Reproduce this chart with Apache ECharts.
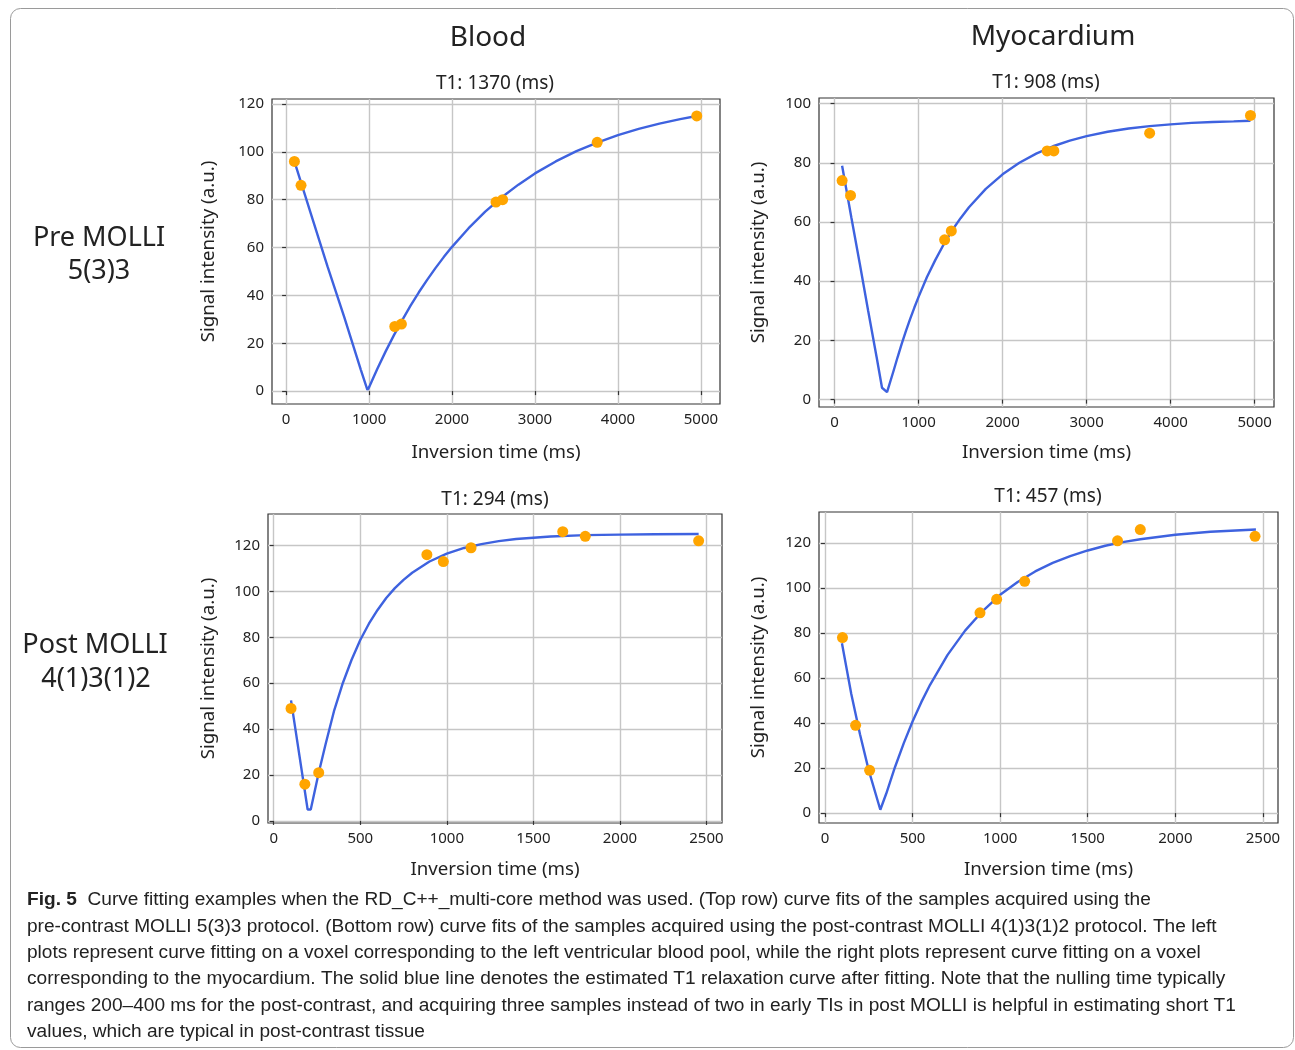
<!DOCTYPE html>
<html>
<head>
<meta charset="utf-8">
<script src="https://cdn.jsdelivr.net/npm/echarts@6/dist/echarts.min.js"></script>
<style>
html,body{margin:0;padding:0;background:#fff;}
#chart{width:1295px;height:1050px;}
</style>
</head>
<body>
<div id="chart"></div>
<script>
// ---------- Data ----------
// Top-left: Blood, Pre MOLLI 5(3)3, T1 = 1370 ms
const bloodPreSampleTI = [100, 180, 1310, 1390, 2530, 2610, 3750, 4950];
const bloodPreSampleSI = [96, 86, 27, 28, 79, 80, 104, 115];
const bloodPreFitTI = [100, 300, 500, 700, 900, 980, 1000, 1100, 1200, 1300, 1400, 1500, 1600, 1700, 1800, 1900, 2000, 2200, 2400, 2600, 2800, 3000, 3250, 3500, 3750, 4000, 4250, 4500, 4750, 4950];
const bloodPreFitSI = [96, 74, 52, 31, 9, 0.5, 1.6, 9.3, 16.6, 23.4, 29.7, 35.7, 41.3, 46.5, 51.4, 56, 60.3, 68.1, 75, 81, 86.3, 91, 96, 100.3, 103.9, 107, 109.6, 111.8, 113.7, 115];

// Top-right: Myocardium, Pre MOLLI 5(3)3, T1 = 908 ms
const myoPreSampleTI = [90, 190, 1310, 1390, 2530, 2610, 3750, 4950];
const myoPreSampleSI = [74, 69, 54, 57, 84, 84, 90, 96];
const myoPreFitTI = [90, 200, 300, 400, 500, 565, 625, 700, 750, 800, 850, 900, 950, 1000, 1100, 1200, 1300, 1400, 1500, 1600, 1800, 2000, 2200, 2400, 2600, 2800, 3000, 3250, 3500, 3750, 4000, 4250, 4500, 4750, 4950];
const myoPreFitSI = [79, 61.5, 46, 30, 14.5, 4, 2.5, 9.5, 14.3, 18.9, 23.2, 27.3, 31.1, 34.7, 41.4, 47.2, 52.5, 57.2, 61.3, 65, 71.2, 76.1, 80, 83.1, 85.6, 87.5, 89, 90.5, 91.6, 92.4, 93, 93.5, 93.8, 94, 94.2];

// Bottom-left: Blood, Post MOLLI 4(1)3(1)2, T1 = 294 ms
const bloodPostSampleTI = [100, 180, 260, 885, 980, 1140, 1670, 1800, 2455];
const bloodPostSampleSI = [49, 16, 21, 116, 113, 119, 126, 124, 122];
const bloodPostFitTI = [100, 196, 214, 260, 300, 350, 400, 450, 500, 550, 600, 650, 700, 750, 800, 900, 1000, 1100, 1200, 1300, 1400, 1600, 1800, 2000, 2200, 2455];
const bloodPostFitSI = [52.5, 5, 5, 21, 33.5, 48.3, 60.2, 70.2, 78.8, 85.9, 91.9, 97.1, 101.4, 105, 108.1, 113, 116.4, 118.9, 120.6, 121.9, 122.8, 123.9, 124.5, 124.7, 124.9, 125];

// Bottom-right: Myocardium, Post MOLLI 4(1)3(1)2, T1 = 457 ms
const myoPostSampleTI = [100, 175, 255, 885, 980, 1140, 1670, 1800, 2455];
const myoPostSampleSI = [78, 39, 19, 89, 95, 103, 121, 126, 123];
const myoPostFitTI = [97, 150, 200, 250, 316, 350, 400, 450, 500, 550, 600, 700, 800, 900, 1000, 1100, 1200, 1300, 1400, 1500, 1600, 1700, 1800, 2000, 2200, 2460];
const myoPostFitSI = [75.5, 53, 35, 19, 1.5, 8.7, 20.5, 31.1, 40.7, 49.3, 57, 70.3, 81.1, 89.8, 97, 102.7, 107.4, 111.2, 114.2, 116.7, 118.8, 120.4, 121.7, 123.7, 125, 126];

// Tick labels
const xTicksPre = [0, 1000, 2000, 3000, 4000, 5000];
const xTicksPost = [0, 500, 1000, 1500, 2000, 2500];
const yTicksBloodPre = [0, 20, 40, 60, 80, 100, 120];
const yTicksMyoPre = [0, 20, 40, 60, 80, 100];
const yTicksPost = [0, 20, 40, 60, 80, 100, 120];

// Texts
const columnHeaders = ['Blood', 'Myocardium'];
const rowLabels = [['Pre MOLLI', '5(3)3'], ['Post MOLLI', '4(1)3(1)2']];
const panelTitles = ['T1: 1370 (ms)', 'T1: 908 (ms)', 'T1: 294 (ms)', 'T1: 457 (ms)'];
const xAxisName = 'Inversion time (ms)';
const yAxisName = 'Signal intensity (a.u.)';
const captionLines = [
  'Curve fitting examples when the RD_C++_multi-core method was used. (Top row) curve fits of the samples acquired using the',
  'pre-contrast MOLLI 5(3)3 protocol. (Bottom row) curve fits of the samples acquired using the post-contrast MOLLI 4(1)3(1)2 protocol. The left',
  'plots represent curve fitting on a voxel corresponding to the left ventricular blood pool, while the right plots represent curve fitting on a voxel',
  'corresponding to the myocardium. The solid blue line denotes the estimated T1 relaxation curve after fitting. Note that the nulling time typically',
  'ranges 200\u2013400 ms for the post-contrast, and acquiring three samples instead of two in early TIs in post MOLLI is helpful in estimating short T1',
  'values, which are typical in post-contrast tissue'
];

// ---------- Layout ----------
const FONT = 'Noto Sans';
const TEXT = '#222';
const grids = [
  {left: 272, top: 99, width: 448, height: 305},
  {left: 819, top: 98, width: 455, height: 309},
  {left: 268, top: 514, width: 454, height: 309},
  {left: 819, top: 512, width: 459, height: 311}
];
const xRanges = [[-170, 5230], [-185, 5230], [-33, 2590], [-34, 2586]];
const yRanges = [[-5.4, 122.1], [-2.5, 101.9], [-0.9, 133.7], [-4.4, 133.8]];
const xTicksList = [xTicksPre, xTicksPre, xTicksPost, xTicksPost];
const yTicksList = [yTicksBloodPre, yTicksMyoPre, yTicksPost, yTicksPost];
const xNameGaps = [39, 36, 37, 37];
const yNameGaps = [54, 51, 50, 51];

const sampleTI = [bloodPreSampleTI, myoPreSampleTI, bloodPostSampleTI, myoPostSampleTI];
const sampleSI = [bloodPreSampleSI, myoPreSampleSI, bloodPostSampleSI, myoPostSampleSI];
const fitTI = [bloodPreFitTI, myoPreFitTI, bloodPostFitTI, myoPostFitTI];
const fitSI = [bloodPreFitSI, myoPreFitSI, bloodPostFitSI, myoPostFitSI];

const zip = (a, b) => a.map((v, i) => [v, b[i]]);
const plain = v => String(v);

const option = {
  animation: false,
  backgroundColor: '#fff',
  textStyle: {fontFamily: FONT, color: TEXT},
  grid: grids.map(g => Object.assign({show: true, borderColor: '#333', borderWidth: 1.2, backgroundColor: 'transparent', containLabel: false}, g)),
  xAxis: grids.map((g, i) => ({
    type: 'value', gridIndex: i, min: xRanges[i][0], max: xRanges[i][1],
    name: xAxisName, nameLocation: 'middle', nameGap: xNameGaps[i],
    nameTextStyle: {fontSize: 18.7, color: TEXT, fontFamily: FONT},
    axisLine: {show: false},
    axisTick: {show: true, inside: false, length: 4, lineStyle: {color: '#333', width: 1.2}, customValues: xTicksList[i]},
    axisLabel: {fontSize: 15, color: TEXT, margin: 8, fontFamily: FONT, customValues: xTicksList[i], formatter: plain},
    splitLine: {show: true, lineStyle: {color: '#c6c6c6', width: 1.4}}
  })),
  yAxis: grids.map((g, i) => ({
    type: 'value', gridIndex: i, min: yRanges[i][0], max: yRanges[i][1],
    name: yAxisName, nameLocation: 'middle', nameGap: yNameGaps[i],
    nameTextStyle: {fontSize: 18.7, color: TEXT, fontFamily: FONT},
    axisLine: {show: false},
    axisTick: {show: true, inside: false, length: 4, lineStyle: {color: '#333', width: 1.2}, customValues: yTicksList[i]},
    axisLabel: {fontSize: 15, color: TEXT, margin: 8, fontFamily: FONT, customValues: yTicksList[i], formatter: plain},
    splitLine: {show: true, lineStyle: {color: '#c6c6c6', width: 1.4}}
  })),
  series: [].concat(
    grids.map((g, i) => ({
      type: 'line', xAxisIndex: i, yAxisIndex: i, z: 2,
      showSymbol: false, smooth: false,
      lineStyle: {color: '#3e62df', width: 2.4},
      data: zip(fitTI[i], fitSI[i])
    })),
    grids.map((g, i) => ({
      type: 'scatter', xAxisIndex: i, yAxisIndex: i, z: 3,
      symbol: 'circle', symbolSize: 11,
      itemStyle: {color: '#ffa500', opacity: 1},
      data: zip(sampleTI[i], sampleSI[i])
    }))
  ),
  graphic: [
    {type: 'rect', shape: {x: 10.5, y: 8.5, width: 1283, height: 1039, r: 10}, style: {fill: 'none', stroke: '#9a9a9a', lineWidth: 1}, silent: true},
    {type: 'text', x: 488, y: 38, style: {text: columnHeaders[0], font: '28px "Noto Sans"', fill: TEXT, textAlign: 'center', textVerticalAlign: 'middle'}},
    {type: 'text', x: 1053, y: 37, style: {text: columnHeaders[1], font: '28px "Noto Sans"', fill: TEXT, textAlign: 'center', textVerticalAlign: 'middle'}},
    {type: 'text', x: 99, y: 238, style: {text: rowLabels[0][0], font: '27px "Noto Sans"', fill: TEXT, textAlign: 'center', textVerticalAlign: 'middle'}},
    {type: 'text', x: 99, y: 271, style: {text: rowLabels[0][1], font: '27px "Noto Sans"', fill: TEXT, textAlign: 'center', textVerticalAlign: 'middle'}},
    {type: 'text', x: 95, y: 645, style: {text: rowLabels[1][0], font: '27px "Noto Sans"', fill: TEXT, textAlign: 'center', textVerticalAlign: 'middle'}},
    {type: 'text', x: 96, y: 679, style: {text: rowLabels[1][1], font: '27px "Noto Sans"', fill: TEXT, textAlign: 'center', textVerticalAlign: 'middle'}},
    {type: 'text', x: 495, y: 84, style: {text: panelTitles[0], font: '19px "Noto Sans"', fill: TEXT, textAlign: 'center', textVerticalAlign: 'middle'}},
    {type: 'text', x: 1046, y: 83, style: {text: panelTitles[1], font: '19px "Noto Sans"', fill: TEXT, textAlign: 'center', textVerticalAlign: 'middle'}},
    {type: 'text', x: 495, y: 500, style: {text: panelTitles[2], font: '19px "Noto Sans"', fill: TEXT, textAlign: 'center', textVerticalAlign: 'middle'}},
    {type: 'text', x: 1048, y: 497, style: {text: panelTitles[3], font: '19px "Noto Sans"', fill: TEXT, textAlign: 'center', textVerticalAlign: 'middle'}}
  ].concat(captionLines.map((line, i) => ({
    type: 'text', x: 27, y: 900 + i * 26.4,
    style: i === 0 ? {
      text: '{b|Fig. 5}  ' + line,
      rich: {b: {fontWeight: 'bold', fontSize: 19.1, fontFamily: 'Liberation Sans', fill: '#222'}},
      font: '19.1px "Liberation Sans"', fill: '#222', textAlign: 'left', textVerticalAlign: 'middle'
    } : {
      text: line, font: '19.1px "Liberation Sans"', fill: '#222', textAlign: 'left', textVerticalAlign: 'middle'
    }
  })))
};

const chart = echarts.init(document.getElementById('chart'), null, {renderer: 'canvas'});
chart.setOption(option);
</script>
</body>
</html>
